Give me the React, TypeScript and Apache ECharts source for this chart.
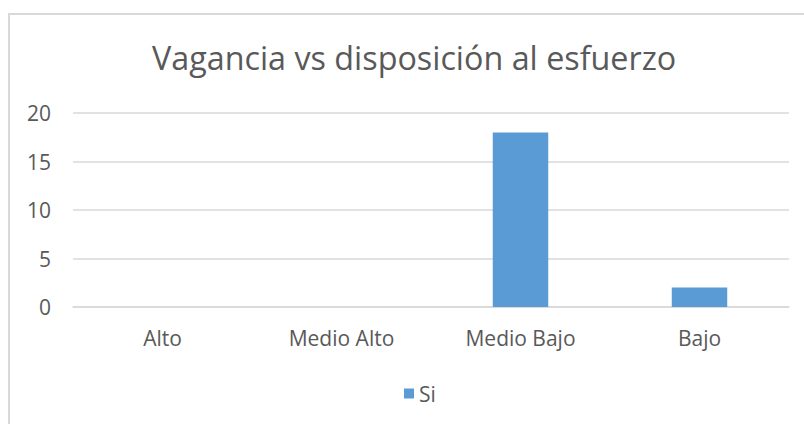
import React, { useEffect, useRef } from "react";
import * as echarts from "echarts";

const categories = ["Alto", "Medio Alto", "Medio Bajo", "Bajo"];
const siValues = [0, 0, 18, 2];
const seriesName = "Si";
const titleText = "Vagancia vs disposición al esfuerzo";

export default function App() {
  const ref = useRef<HTMLDivElement>(null);
  useEffect(() => {
    if (!ref.current) return;
    const chart = echarts.init(ref.current, undefined, { renderer: "svg" });
    const font = "'Open Sans', sans-serif";
    chart.setOption({
      animation: false,
      backgroundColor: "#ffffff",
      title: {
        text: titleText,
        left: 147,
        top: 36,
        textStyle: { fontFamily: font, fontSize: 32.3, fontWeight: "normal", color: "#595959" },
      },
      graphic: [
        {
          type: "rect",
          shape: { x: 9, y: 14, width: 820, height: 440 },
          style: { fill: "none", stroke: "#d9d9d9", lineWidth: 2 },
          silent: true,
        },
      ],
      grid: { left: 73, right: 15, top: 113, bottom: 117, containLabel: false },
      xAxis: {
        type: "category",
        data: categories,
        axisLine: { show: true, lineStyle: { color: "#d9d9d9", width: 1.5 } },
        axisTick: { show: false },
        axisLabel: { fontFamily: font, fontSize: 21, color: "#595959", margin: 20 },
      },
      yAxis: {
        type: "value",
        min: 0,
        max: 20,
        interval: 5,
        axisLine: { show: false },
        axisTick: { show: false },
        splitLine: { lineStyle: { color: "#d9d9d9", width: 1.5 } },
        axisLabel: { fontFamily: font, fontSize: 21, color: "#595959", margin: 22 },
      },
      legend: {
        data: [seriesName],
        left: 399,
        top: 378,
        itemWidth: 10,
        itemHeight: 10,
        icon: "rect",
        itemGap: 5,
        textStyle: { fontFamily: font, fontSize: 21, color: "#595959" },
      },
      series: [
        {
          name: seriesName,
          type: "bar",
          data: siValues,
          barWidth: "31%",
          itemStyle: { color: "#5b9bd5" },
        },
      ],
    });
    return () => chart.dispose();
  }, []);
  return (
    <div
      ref={ref}
      style={{ position: "fixed", left: 0, top: 0, width: 804, height: 424, background: "#fff" }}
    />
  );
}
